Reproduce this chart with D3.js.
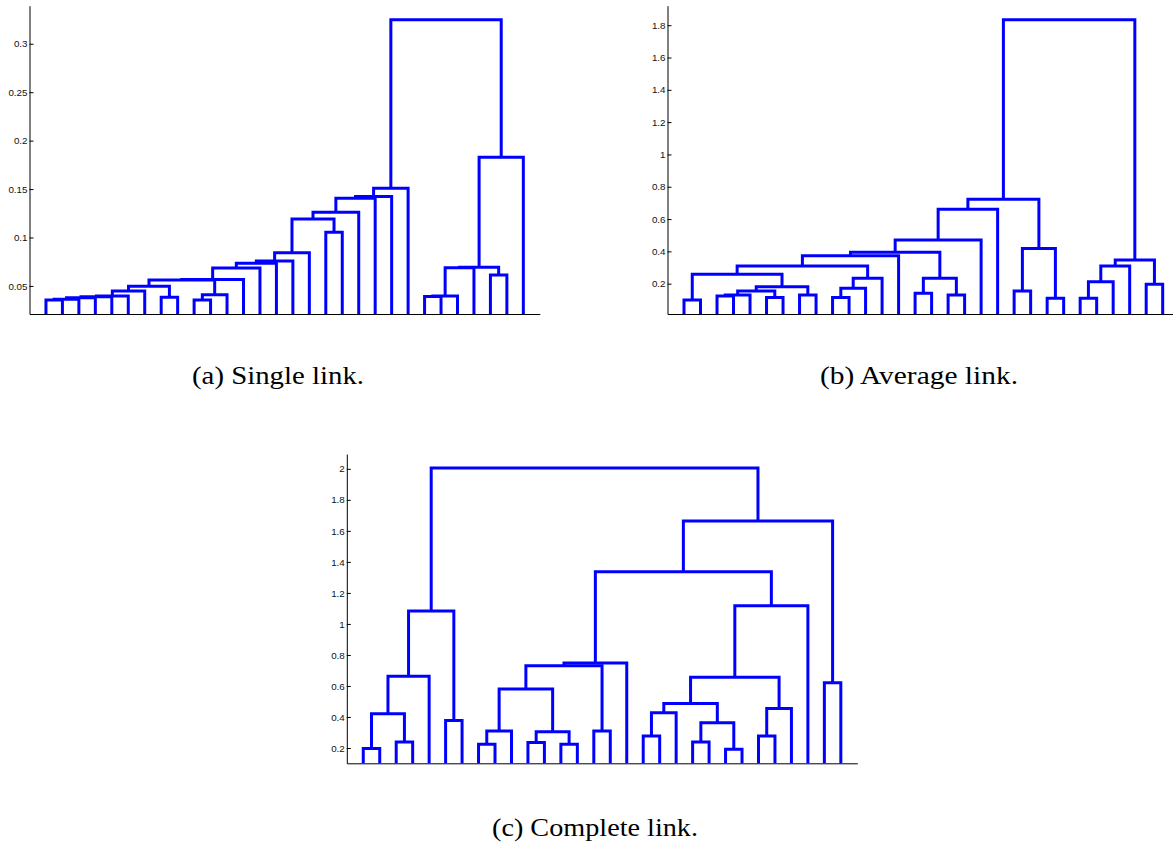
<!DOCTYPE html>
<html><head><meta charset="utf-8">
<script src="https://cdn.jsdelivr.net/npm/d3@7"></script>
<style>body{margin:0;background:#fff;} svg{display:block;background:#fff}</style>
</head><body><svg id="chart" width="1173" height="848"></svg>
<script>
// 30 leaves per dendrogram; internal node of merge k has id 30+k (MATLAB linkage style)
const leafCount = 30;

// (a) Single link
const singleLeft   = [1,31,32,33,34,35,8,36,10,39,38,41,42,43,44,45,18,46,48,49,50,51,24,53,54,28,55,57,52];
const singleRight  = [2,3,4,5,6,7,9,37,11,12,40,13,14,15,16,17,19,47,20,21,22,23,25,26,27,29,56,30,58];
const singleHeight = [0.0355,0.0362,0.0378,0.0388,0.0395,0.0448,0.0383,0.0497,0.0355,0.0410,0.0562,0.0566,0.0686,0.0734,0.0758,0.0843,0.1055,0.1192,0.1261,0.1406,0.1423,0.1509,0.0390,0.0397,0.0689,0.0614,0.0693,0.1829,0.3248];
const singleTicks  = [0.05,0.1,0.15,0.2,0.25,0.3];

// (b) Average link
const averageLeft   = [1,3,32,6,33,8,35,31,10,39,40,38,42,15,17,44,43,47,48,21,23,50,49,25,54,55,29,56,53];
const averageRight  = [2,4,5,7,34,9,36,37,11,12,13,41,14,16,18,45,46,19,20,22,24,51,52,26,27,28,30,57,58];
const averageHeight = [0.099,0.124,0.130,0.114,0.155,0.130,0.181,0.258,0.114,0.172,0.233,0.309,0.373,0.141,0.130,0.233,0.394,0.470,0.661,0.155,0.110,0.418,0.723,0.110,0.212,0.309,0.196,0.346,1.834];
const averageTicks  = [0.2,0.4,0.6,0.8,1,1.2,1.4,1.6,1.8];

// (c) Complete link
const completeLeft   = [1,3,31,33,6,34,8,37,11,13,39,38,15,42,44,18,46,21,23,48,47,25,52,51,54,45,29,56,36];
const completeRight  = [2,4,32,5,7,35,9,10,12,14,40,41,16,43,17,19,20,22,24,49,50,26,27,53,28,55,30,57,58];
const completeHeight = [0.196,0.239,0.421,0.662,0.378,1.084,0.224,0.309,0.235,0.224,0.305,0.581,0.309,0.731,0.748,0.277,0.427,0.239,0.192,0.363,0.487,0.277,0.455,0.656,1.118,1.337,0.620,1.664,2.005];
const completeTicks  = [0.2,0.4,0.6,0.8,1,1.2,1.4,1.6,1.8,2];

const captions = ["(a) Single link.", "(b) Average link.", "(c) Complete link."];

const panels = [
  {left: singleLeft, right: singleRight, height: singleHeight, ticks: singleTicks, caption: captions[0],
   box: {x0: 29.5, x1: 539.8, top: 5.7, bottom: 314}, cap: {x: 278, y: 384, w: 172}},
  {left: averageLeft, right: averageRight, height: averageHeight, ticks: averageTicks, caption: captions[1],
   box: {x0: 667.5, x1: 1179.2, top: 5.7, bottom: 314}, cap: {x: 919, y: 384, w: 198}},
  {left: completeLeft, right: completeRight, height: completeHeight, ticks: completeTicks, caption: captions[2],
   box: {x0: 346.8, x1: 857.3, top: 454, bottom: 763.3}, cap: {x: 595, y: 836, w: 206}}
];

const svg = d3.select("#chart");
svg.append("rect").attr("width", 1173).attr("height", 848).attr("fill", "#fff");

panels.forEach((p, i) => {
  const n = leafCount;
  const mn = d3.min(p.height), mx = d3.max(p.height), pad = 0.05 * (mx - mn);
  const x = d3.scaleLinear().domain([0, n + 1]).range([p.box.x0, p.box.x1]);
  const y = d3.scaleLinear().domain([mn - pad, mx + pad]).range([p.box.bottom, p.box.top]);

  const pos = [], hgt = [];
  for (let k = 1; k <= n; k++) { pos[k] = k; hgt[k] = 0; }
  const links = p.height.map((h, k) => {
    const a = p.left[k], b = p.right[k], id = n + 1 + k;
    pos[id] = (pos[a] + pos[b]) / 2; hgt[id] = h;
    return {a, b, h};
  });

  const g = svg.append("g");
  const cid = "clip" + i;
  g.append("clipPath").attr("id", cid).append("rect")
    .attr("x", p.box.x0).attr("y", p.box.top - 6)
    .attr("width", p.box.x1 - p.box.x0).attr("height", p.box.bottom - p.box.top + 6);

  g.append("g").attr("clip-path", `url(#${cid})`)
    .selectAll("path").data(links).join("path")
    .attr("d", d => `M${x(pos[d.a])},${y(hgt[d.a])}V${y(d.h)}H${x(pos[d.b])}V${y(hgt[d.b])}`)
    .attr("fill", "none").attr("stroke", "#0000ff").attr("stroke-width", 3)
    .attr("stroke-linejoin", "miter");

  const ay = g.append("g").attr("transform", `translate(${p.box.x0},0)`)
    .call(d3.axisLeft(y).tickValues(p.ticks).tickFormat(d3.format("~g")).tickSizeInner(-4).tickSizeOuter(0).tickPadding(2));
  ay.selectAll("text").attr("font-family", "'Liberation Sans', Arial, sans-serif").attr("font-size", 9.8).attr("fill", "#111");
  ay.selectAll("line,path").attr("stroke", "#000");

  const ax = g.append("g").attr("transform", `translate(0,${p.box.bottom})`)
    .call(d3.axisBottom(x).tickValues([]).tickSizeOuter(0));
  ax.selectAll("path").attr("stroke", "#000");

  svg.append("text").attr("x", p.cap.x).attr("y", p.cap.y)
    .attr("text-anchor", "middle")
    .attr("font-family", "'Liberation Serif', 'Times New Roman', serif")
    .attr("font-size", 26)
    .attr("textLength", p.cap.w).attr("lengthAdjust", "spacingAndGlyphs")
    .attr("fill", "#000")
    .text(p.caption);
});
</script>
</body></html>
